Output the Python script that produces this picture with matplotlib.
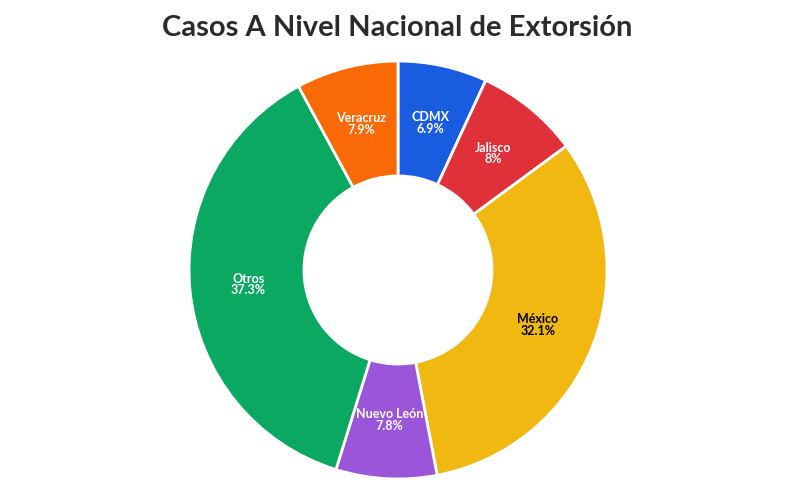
import numpy as np
import matplotlib.pyplot as plt

labels = ['CDMX', 'Jalisco', 'México', 'Nuevo León', 'Otros', 'Veracruz']
values = [6.9, 8, 32.1, 7.8, 37.3, 7.9]
pct_text = ['6.9%', '8%', '32.1%', '7.8%', '37.3%', '7.9%']
colors = ['#1a5ce0', '#e0303a', '#f0b810', '#9b55d9', '#0aa860', '#f96a06']
text_colors = ['white', 'white', 'black', 'white', 'white', 'white']

fig = plt.figure(figsize=(7.95, 4.96), dpi=100)
ax = fig.add_axes([188 / 795, 16 / 496, 420 / 795, 420 / 496])

wedges, _ = ax.pie(values, colors=colors, startangle=90, counterclock=False,
                   wedgeprops=dict(width=0.55, edgecolor='white', linewidth=2))

for w, lab, pt, tc in zip(wedges, labels, pct_text, text_colors):
    ang = np.deg2rad((w.theta1 + w.theta2) / 2)
    x, y = 0.72 * np.cos(ang), 0.72 * np.sin(ang)
    ax.text(x, y, lab + '\n' + pt, ha='center', va='center', color=tc,
            fontsize=9, fontweight='bold', family='Lato', linespacing=0.95)

ax.set_xlim(-1.005, 1.005)
ax.set_ylim(-1.005, 1.005)
ax.set_aspect('equal')
fig.text(0.5, 0.943, 'Casos A Nivel Nacional de Extorsión', ha='center', va='center',
         fontsize=21, fontweight='bold', family='Lato', color='#2b2b2b')

fig.savefig('out.png', dpi=100)
